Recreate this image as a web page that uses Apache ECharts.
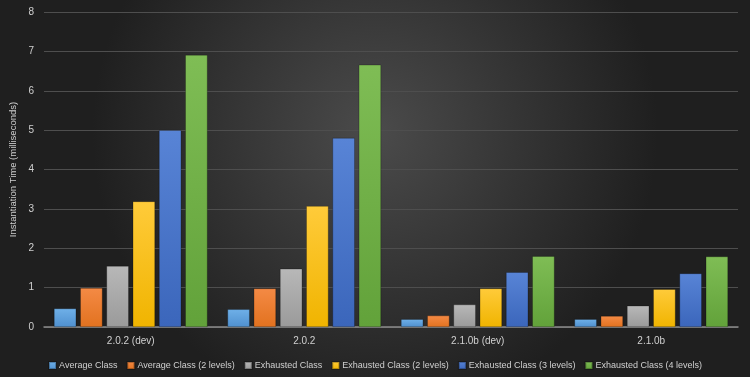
<!DOCTYPE html>
<html>
<head>
<meta charset="utf-8">
<script src="https://cdn.jsdelivr.net/npm/echarts@6/dist/echarts.min.js"></script>
<style>
  html, body { margin: 0; padding: 0; background: #2a2a2a; }
  #chart { width: 750px; height: 377px; }
</style>
</head>
<body>
<div id="chart"></div>
<script>
var versions = ['2.0.2 (dev)', '2.0.2', '2.1.0b (dev)', '2.1.0b'];
var seriesNames = [
  'Average Class',
  'Average Class (2 levels)',
  'Exhausted Class',
  'Exhausted Class (2 levels)',
  'Exhausted Class (3 levels)',
  'Exhausted Class (4 levels)'
];
var averageClass = [0.47, 0.45, 0.2, 0.2];
var averageClass2 = [0.99, 0.98, 0.29, 0.28];
var exhaustedClass = [1.55, 1.48, 0.57, 0.54];
var exhaustedClass2 = [3.19, 3.07, 0.98, 0.96];
var exhaustedClass3 = [5.0, 4.8, 1.39, 1.36];
var exhaustedClass4 = [6.91, 6.66, 1.8, 1.79];
var yTicks = [0, 8, 1]; // min, max, interval

var colors = [
  ['#6fb0e8', '#4f90cf'],
  ['#f48a45', '#e2721f'],
  ['#b8b8b8', '#9a9a9a'],
  ['#ffcb3a', '#f0b400'],
  ['#5884d6', '#3b66bb'],
  ['#7fbd55', '#62a23a']
];

var chart = echarts.init(document.getElementById('chart'));
var font = "'Liberation Sans', 'Open Sans', sans-serif";

var allData = [averageClass, averageClass2, exhaustedClass, exhaustedClass2, exhaustedClass3, exhaustedClass4];
var series = [];
for (var i = 0; i < seriesNames.length; i++) {
  series.push({
    name: seriesNames[i],
    type: 'bar',
    data: allData[i],
    barGap: '18%',
    barCategoryGap: '11.5%',
    itemStyle: {
      color: {
        type: 'linear', x: 0, y: 0, x2: 0, y2: 1,
        colorStops: [
          { offset: 0, color: colors[i][0] },
          { offset: 1, color: colors[i][1] }
        ]
      },
      borderColor: 'rgba(0,0,0,0.25)',
      borderWidth: 0.5
    }
  });
}

var option = {
  backgroundColor: {
    type: 'radial', x: 0.5, y: 0.35, r: 0.75,
    colorStops: [
      { offset: 0, color: '#4b4b4b' },
      { offset: 1, color: '#1f1f1f' }
    ]
  },
  color: colors.map(function (c) { return c[1]; }),
  textStyle: { fontFamily: font },
  grid: { left: 43, right: 12, top: 12, bottom: 50 },
  legend: {
    data: seriesNames,
    top: 356,
    left: 'center',
    width: 740,
    itemWidth: 7,
    itemHeight: 7,
    itemGap: 9,
    icon: 'rect',
    textStyle: { color: '#d0d0d0', fontSize: 9, fontFamily: font, padding: [0, 0, 0, -2] }
  },
  xAxis: {
    type: 'category',
    data: versions,
    axisLine: { lineStyle: { color: '#8a8a8a', width: 1.5 } },
    axisTick: { show: false },
    axisLabel: { color: '#d0d0d0', fontSize: 10, margin: 9, fontFamily: font }
  },
  yAxis: {
    type: 'value',
    min: yTicks[0],
    max: yTicks[1],
    interval: yTicks[2],
    name: 'Instantiation Time (milliseconds)',
    nameLocation: 'middle',
    nameGap: 26,
    nameMoveOverlap: false,
    nameTextStyle: { color: '#d0d0d0', fontSize: 9.5, fontFamily: font },
    axisLine: { show: false },
    axisTick: { show: false },
    axisLabel: { color: '#d0d0d0', fontSize: 10, margin: 10 },
    splitLine: { lineStyle: { color: '#4e4e4e', width: 1 } }
  },
  series: series
};
chart.setOption(option);
</script>
</body>
</html>
